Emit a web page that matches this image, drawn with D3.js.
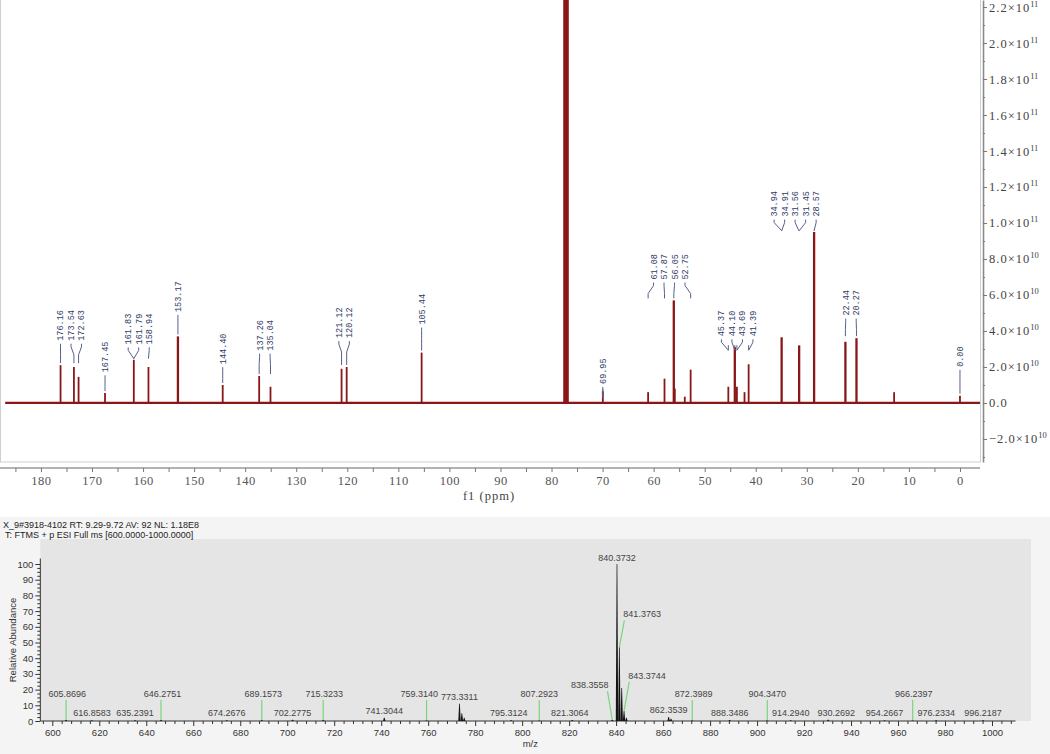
<!DOCTYPE html>
<html>
<head>
<meta charset="utf-8">
<script src="https://cdn.jsdelivr.net/npm/d3@7"></script>
<style>
  body { margin: 0; background: #fff; }
  svg { display: block; }
</style>
</head>
<body>
<svg id="chart" width="1050" height="754"></svg>
<script>
// 13C NMR peaks (ppm) and heights (x 1e10)
var nmrPpm    = [176.16, 173.54, 172.63, 167.45, 161.81, 158.94, 153.17, 144.40, 137.26, 135.04,
                 121.12, 120.12, 105.44, 77.48, 77.16, 76.84, 69.95, 61.08, 57.87, 56.05, 55.85,
                 53.90, 52.75, 45.37, 44.10, 43.69, 42.20, 41.39, 34.93, 31.50, 28.57, 22.44,
                 20.27, 12.90, 0.00];
var nmrHeight = [2.1, 2.0, 1.45, 0.55, 2.4, 2.0, 3.7, 1.0, 1.5, 0.9,
                 1.9, 2.0, 2.8, 30, 30, 30, 0.65, 0.6, 1.35, 5.7, 0.8,
                 0.35, 1.85, 0.9, 3.1, 0.9, 0.6, 2.15, 3.65, 3.2, 9.5, 3.4,
                 3.6, 0.6, 0.4];

// peak labels, grouped as in the picture, and the level (x 1e10) of each group's text
var labelPpm = [
  [176.16, 173.54, 172.63], [167.45], [161.83, 161.79, 158.94], [153.17], [144.40],
  [137.26, 135.04], [121.12, 120.12], [105.44], [69.95], [61.08, 57.87, 56.05, 52.75],
  [45.37, 44.10, 43.69, 41.39], [34.94, 34.91, 31.56, 31.45, 28.57], [22.44, 20.27], [0.00]
];
var labelLevel = [3.4, 1.65, 3.2, 5.0, 2.1, 2.85, 3.55, 4.3, 1.0, 6.8, 3.65, 10.3, 4.8, 1.95];

var nmrTicks = d3.range(185, -1, -5);
var intensityTicks = d3.range(-2, 23, 2);

// mass spectrum
var msMz    = [605.87, 616.86, 635.24, 646.28, 674.27, 689.16, 702.28, 715.32, 741.30, 759.31,
               773.33, 774.33, 775.34, 795.31, 807.29, 821.31, 838.36, 840.37, 841.38, 842.38,
               843.37, 844.38, 862.35, 863.36, 872.40, 888.35, 904.35, 914.29, 930.27, 954.27,
               966.24, 976.23, 996.22];
var msAbund = [0.8, 0.5, 0.4, 0.6, 0.4, 0.6, 0.8, 0.6, 2.0, 0.5,
               11, 5, 2, 0.5, 0.5, 0.6, 0.8, 100, 47, 21,
               6.4, 2, 2.5, 1.5, 0.5, 0.7, 0.5, 0.5, 0.8, 0.4,
               0.5, 0.4, 0.4];

var msLabels     = ['605.8696', '616.8583', '635.2391', '646.2751', '674.2676', '689.1573', '702.2775',
                    '715.3233', '741.3044', '759.3140', '773.3311', '795.3124', '807.2923', '821.3064',
                    '838.3558', '840.3732', '841.3763', '843.3744', '862.3539', '872.3989', '888.3486',
                    '904.3470', '914.2940', '930.2692', '954.2667', '966.2397', '976.2334', '996.2187'];
var msLabelShift = [0.5, 0, 0, 0.6, 0, 0.6, 0, 0.4, 0, -3.1, 0, -1.0, 0, -1.0,
                    -9.6, 0, 9.7, 9.8, 0, 0.6, 0, 0, 0, 3.4, 0, 0.5, 0, 0];
var msLabelLevel = [15.3, 3.2, 3.2, 15.3, 3.2, 15.3, 3.2, 15.3, 4.5, 15.3, 13.4, 3.2, 15.3, 3.2,
                    21, 102, 66, 27, 5, 15.3, 3.2, 15.3, 3.2, 3.2, 3.2, 15.3, 3.2, 3.2];

var msTicks = d3.range(600, 1001, 20);

var svg = d3.select('#chart');
var nmrRed = '#8a1717';
var serif = '"Liberation Serif", "DejaVu Serif", serif';
var sans = '"Liberation Sans", Arial, sans-serif';

// ---------- NMR panel ----------
var xN = d3.scaleLinear().domain([187, -4]).range([5.2, 980.4]);
var yN = d3.scaleLinear().domain([-3.28, 22.39]).range([462, 0]);

svg.append('rect')
  .attr('x', 0.5).attr('y', -1).attr('width', 980).attr('height', 463)
  .attr('fill', 'none').attr('stroke', '#cfcfcf');

svg.append('clipPath').attr('id', 'nmrClip')
  .append('rect').attr('x', 0).attr('y', 0).attr('width', 980).attr('height', 462);

var spec = svg.append('g').attr('clip-path', 'url(#nmrClip)');

spec.append('line')
  .attr('x1', xN(187)).attr('x2', xN(-4))
  .attr('y1', yN(0)).attr('y2', yN(0))
  .attr('stroke', nmrRed).attr('stroke-width', 2.2);

spec.selectAll('line.peak')
  .data(nmrPpm)
  .enter()
  .append('line')
  .attr('class', 'peak')
  .attr('x1', function(d) { return xN(d); })
  .attr('x2', function(d) { return xN(d); })
  .attr('y1', yN(0))
  .attr('y2', function(d, i) { return yN(nmrHeight[i]); })
  .attr('stroke', nmrRed)
  .attr('stroke-width', function(d, i) { return nmrHeight[i] > 3 ? 2.3 : 1.8; });

// peak labels with leaders
function heightAt(p) {
  var best = 0, dist = 1e9;
  nmrPpm.forEach(function(q, i) {
    if (Math.abs(q - p) < dist) { dist = Math.abs(q - p); best = nmrHeight[i]; }
  });
  return best;
}

var labelG = svg.append('g');
labelPpm.forEach(function(group, gi) {
  var xs = group.map(function(p) { return xN(p); });
  var center = d3.mean(xs);
  var n = group.length;
  var yb = yN(labelLevel[gi]);
  var yEnd = yN(d3.max(group, heightAt)) - 2;

  group.forEach(function(p, i) {
    var lx = n === 1 ? xs[i] : center + (i - (n - 1) / 2) * 10.5;
    labelG.append('text')
      .attr('transform', 'translate(' + lx + ',' + (yb - 1) + ') rotate(-90)')
      .attr('dy', '0.35em')
      .attr('font-family', '"Liberation Mono", "DejaVu Sans Mono", monospace')
      .attr('font-size', 8.5)
      .attr('fill', '#2f3a66')
      .text(p.toFixed(2));
    labelG.append('path')
      .attr('d', 'M' + lx + ',' + (yb + 2) + 'V' + (yb + 5) +
                 'L' + xs[i] + ',' + (yb + 13) + 'V' + yEnd)
      .attr('fill', 'none')
      .attr('stroke', '#56608a')
      .attr('stroke-width', 1);
  });
});

// right intensity axis
var yAxisG = svg.append('g').attr('transform', 'translate(983,0)');
var yMajor = yAxisG.append('g')
  .call(d3.axisRight(yN).tickValues(intensityTicks).tickSize(4).tickSizeOuter(0).tickPadding(2));
yMajor.select('.domain').attr('stroke', '#8a8a8a').attr('stroke-width', 1.6);
yMajor.selectAll('.tick line').attr('stroke', '#777');
yMajor.selectAll('.tick text').each(function(d) {
  var t = d3.select(this).text('')
    .attr('font-family', serif)
    .attr('font-size', 12.5)
    .attr('letter-spacing', 1)
    .attr('fill', '#444');
  if (d === 0) { t.append('tspan').text('0.0'); return; }
  var e = Math.abs(d) >= 10 ? 11 : 10;
  var m = d / Math.pow(10, e - 10);
  t.append('tspan').text((m < 0 ? '\u2212' : '') + Math.abs(m).toFixed(1) + '\u00d710');
  t.append('tspan').attr('dy', -5).attr('font-size', 8.5).attr('letter-spacing', 0).text(e);
});
var yMinor = yAxisG.append('g')
  .call(d3.axisRight(yN).tickValues(d3.range(-3, 22, 2)).tickSize(2).tickFormat(''));
yMinor.select('.domain').remove();
yMinor.selectAll('.tick line').attr('stroke', '#777');

// bottom ppm axis
var xAxisG = svg.append('g').attr('transform', 'translate(0,468)');
xAxisG.call(d3.axisBottom(xN).tickValues(nmrTicks).tickSize(4).tickSizeOuter(0).tickPadding(4)
  .tickFormat(function(d) { return d % 10 === 0 ? d : ''; }));
xAxisG.select('.domain').attr('d', 'M0,0H980').attr('stroke', '#999').attr('stroke-width', 1.3);
xAxisG.selectAll('.tick line').attr('stroke', '#777');
xAxisG.selectAll('.tick text')
  .attr('font-family', serif)
  .attr('font-size', 12.5)
  .attr('letter-spacing', 0.5)
  .attr('fill', '#555');

svg.append('text')
  .attr('x', 489).attr('y', 500)
  .attr('text-anchor', 'middle')
  .attr('font-family', serif)
  .attr('font-size', 12.5)
  .attr('letter-spacing', 1)
  .attr('fill', '#444')
  .text('f1 (ppm)');

// ---------- MS panel ----------
var xM = d3.scaleLinear().domain([600, 1000]).range([52.3, 992]);
var yM = d3.scaleLinear().domain([0, 100]).range([721, 564]);

svg.append('rect').attr('x', 0).attr('y', 517).attr('width', 1050).attr('height', 237).attr('fill', '#f4f4f4');
svg.append('rect')
  .attr('x', xM(594.9)).attr('y', 539)
  .attr('width', xM(1016.6) - xM(594.9)).attr('height', yM(0) - 539)
  .attr('fill', '#e5e5e5');

svg.append('text').attr('x', 3).attr('y', 528)
  .attr('font-family', sans).attr('font-size', 9).attr('fill', '#222')
  .text('X_9#3918-4102  RT: 9.29-9.72 AV: 92 NL: 1.18E8');
svg.append('text').attr('x', 5).attr('y', 537.5)
  .attr('font-family', sans).attr('font-size', 9).attr('fill', '#222')
  .text('T: FTMS + p ESI Full ms [600.0000-1000.0000]');

// y axis
var msY = svg.append('g').attr('transform', 'translate(' + xM(594.9) + ',0)');
var msYMajor = msY.append('g')
  .call(d3.axisLeft(yM).tickValues(d3.range(0, 101, 10)).tickSize(5).tickSizeOuter(0).tickPadding(2));
msYMajor.select('.domain').attr('d', 'M0,' + yM(0) + 'V' + yM(103.5)).attr('stroke', '#333');
msYMajor.selectAll('.tick line').attr('stroke', '#333');
msYMajor.selectAll('.tick text').attr('font-family', sans).attr('font-size', 9.5).attr('fill', '#333');
var msYMinor = msY.append('g')
  .call(d3.axisLeft(yM).tickValues(d3.range(2.5, 101, 2.5).filter(function(v) { return v % 10 !== 0; }))
    .tickSize(3).tickFormat(''));
msYMinor.select('.domain').remove();
msYMinor.selectAll('.tick line').attr('stroke', '#333');

svg.append('text')
  .attr('transform', 'translate(16,640) rotate(-90)')
  .attr('text-anchor', 'middle')
  .attr('font-family', sans).attr('font-size', 9.5).attr('fill', '#333')
  .text('Relative Abundance');

// x axis
var msX = svg.append('g').attr('transform', 'translate(0,' + yM(0) + ')');
var msXMajor = msX.append('g')
  .call(d3.axisBottom(xM).tickValues(msTicks).tickSize(5).tickSizeOuter(0).tickPadding(3)
    .tickFormat(d3.format('d')));
msXMajor.select('.domain').attr('d', 'M' + xM(594.9) + ',0H' + xM(1010)).attr('stroke', '#333');
msXMajor.selectAll('.tick line').attr('stroke', '#333');
msXMajor.selectAll('.tick text').attr('font-family', sans).attr('font-size', 9.5).attr('fill', '#333');
var msXMinor = msX.append('g')
  .call(d3.axisBottom(xM).tickValues(d3.range(596, 1011, 4).filter(function(v) { return v % 20 !== 0; }))
    .tickSize(3).tickFormat(''));
msXMinor.select('.domain').remove();
msXMinor.selectAll('.tick line').attr('stroke', '#333');

svg.append('text')
  .attr('x', xM(803.5)).attr('y', 747)
  .attr('text-anchor', 'middle')
  .attr('font-family', sans).attr('font-size', 9.5).attr('fill', '#333')
  .text('m/z');

// peaks: narrow profile shapes
svg.append('g').selectAll('path')
  .data(msMz)
  .enter()
  .append('path')
  .attr('d', function(d, i) {
    var px = xM(d), top = yM(msAbund[i]), base = yM(0);
    return 'M' + (px - 1.2) + ',' + base + 'L' + (px - 0.35) + ',' + top +
           'L' + (px + 0.35) + ',' + top + 'L' + (px + 1.2) + ',' + base + 'Z';
  })
  .attr('fill', '#151515');

// peak labels and green leaders
function abundAt(mz) {
  var best = 0, dist = 1e9;
  msMz.forEach(function(q, i) {
    if (Math.abs(q - mz) < dist) { dist = Math.abs(q - mz); best = msAbund[i]; }
  });
  return best;
}

var msLab = svg.append('g');
msLabels.forEach(function(s, i) {
  var mz = +s;
  var lx = xM(mz + msLabelShift[i]);
  var ly = yM(msLabelLevel[i]);
  var t = msLab.append('text')
    .attr('x', lx).attr('y', ly)
    .attr('text-anchor', 'middle')
    .attr('font-family', sans).attr('font-size', 9).attr('fill', '#444')
    .text(s);
  var w = t.node().getComputedTextLength();
  var px = xM(mz), pTop = yM(abundAt(mz));
  if (pTop - ly > 8 || Math.abs(lx - px) > 3) {
    var sx = Math.max(lx - w / 2 + 1, Math.min(lx + w / 2 - 1, px));
    msLab.append('line')
      .attr('x1', sx).attr('y1', ly + 3)
      .attr('x2', px).attr('y2', pTop)
      .attr('stroke', '#7ad67a').attr('stroke-width', 1.2);
  }
});
</script>
</body>
</html>
